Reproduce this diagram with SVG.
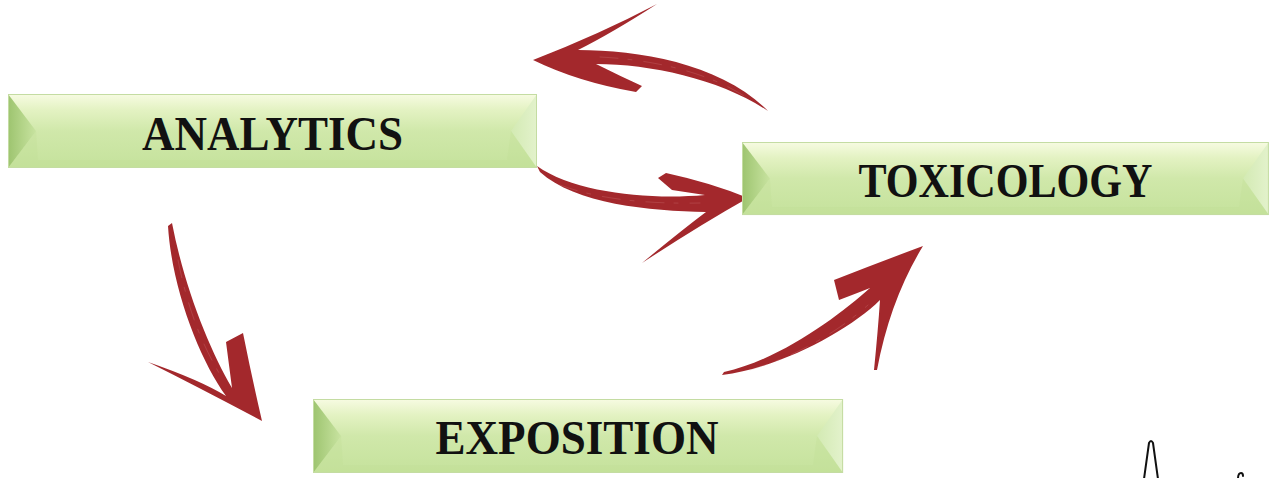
<svg xmlns="http://www.w3.org/2000/svg" xmlns:xlink="http://www.w3.org/1999/xlink" width="1269" height="478" viewBox="0 0 1269 478">
  <style>
    .label { font-family: "Liberation Serif", "Times New Roman", serif; font-weight: bold; font-size: 48px; fill: #111; text-anchor: middle; }
    .brush { fill: #a3282c; }
    .streak { fill: none; stroke: #e8a0a0; stroke-width: 0.8; stroke-opacity: 0.25; stroke-linecap: round; stroke-dasharray: 18 10 4 12; }
    .squiggle { fill: none; stroke: #111; stroke-width: 2; stroke-linejoin: round; stroke-linecap: round; }
  </style>
  <defs>
    <linearGradient id="face" x1="0" y1="0" x2="0" y2="1">
      <stop offset="0" stop-color="#f7fbe2"/>
      <stop offset="0.22" stop-color="#e3f2c2"/>
      <stop offset="0.5" stop-color="#d0e8aa"/>
      <stop offset="1" stop-color="#c5e29c"/>
    </linearGradient>
    <linearGradient id="bevelLeft" x1="0" y1="0" x2="1" y2="0">
      <stop offset="0" stop-color="#9dc46f"/>
      <stop offset="1" stop-color="#c8e3a0"/>
    </linearGradient>
    <linearGradient id="bevelRight" x1="0" y1="0" x2="1" y2="0">
      <stop offset="0" stop-color="#d3eab3"/>
      <stop offset="1" stop-color="#e3f2cc"/>
    </linearGradient>
    <!-- bevelled green plate, 529 x 74 -->
    <g id="plate">
      <rect x="0" y="0" width="529" height="74" fill="url(#face)"/>
      <polygon points="0,0 28,37 0,74" fill="url(#bevelLeft)"/>
      <polygon points="529,0 503,37 529,74" fill="url(#bevelRight)"/>
      <polygon points="0,74 28,37 30,66 499,66 503,37 529,74" fill="#bfdd95" opacity="0.3"/>
      <rect x="0.5" y="0.5" width="528" height="73" fill="none" stroke="#c4dca2" stroke-width="1"/>
    </g>
  </defs>

  <g id="connectors">
    <!-- TOXICOLOGY back to ANALYTICS (top, pointing left) -->
    <g id="arrow-tox-ana">
      <path class="brush" d="M533 60 Q600 34 657 4 Q612 33 578 50 C640 50 722 64 768 111 C722 80 652 64 596 64 Q620 76 642 86 L636 92 Q578 82 533 60 Z"/>
      <path class="streak" d="M600 57 C660 60 715 75 750 100"/>
    </g>
    <!-- ANALYTICS to TOXICOLOGY -->
    <g id="arrow-ana-tox">
      <path class="brush" d="M537 166 C575 193 650 200 705 195 L672 190 L658 178 L666 173 Q712 183 748 198 Q700 225 642 263 Q682 230 706 212 C650 211 575 204 540 172 Z"/>
      <path class="streak" d="M560 185 C600 200 650 204 700 203"/>
    </g>
    <!-- ANALYTICS to EXPOSITION -->
    <g id="arrow-ana-exp">
      <path class="brush" d="M172 223 C185 290 210 350 232 388 L226 342 L243 333 Q252 378 262 421 Q200 388 148 362 Q200 380 226 396 C200 360 172 290 168 226 Z"/>
      <path class="streak" d="M178 260 C188 310 202 345 222 378"/>
    </g>
    <!-- EXPOSITION to TOXICOLOGY -->
    <g id="arrow-exp-tox">
      <path class="brush" d="M722 375 C780 368 850 330 880 300 Q878 330 874 370 L877 370 Q890 300 923 246 Q880 262 834 280 L839 300 Q860 292 870 288 C840 315 780 360 724 372 Z"/>
      <path class="streak" d="M750 370 C800 355 840 330 868 305"/>
    </g>
  </g>

  <g id="node-analytics">
    <use xlink:href="#plate" href="#plate" transform="translate(8,94)"/>
    <text class="label" x="272.5" y="150" textLength="261" lengthAdjust="spacingAndGlyphs">ANALYTICS</text>
  </g>

  <g id="node-toxicology">
    <use xlink:href="#plate" href="#plate" transform="translate(742,142) scale(0.996,0.987)"/>
    <text class="label" x="1005.5" y="197" textLength="294" lengthAdjust="spacingAndGlyphs">TOXICOLOGY</text>
  </g>

  <g id="node-exposition">
    <use xlink:href="#plate" href="#plate" transform="translate(313,399) scale(1.002,1)"/>
    <text class="label" x="577" y="454" textLength="283" lengthAdjust="spacingAndGlyphs">EXPOSITION</text>
  </g>

  <!-- partial line figure at lower right edge -->
  <g id="fragment">
    <path class="squiggle" d="M1144 479 L1149 443 Q1151 439 1153 443 L1158 479"/>
    <path class="squiggle" d="M1238 479 Q1238 473 1241 473 Q1243 473 1243 476"/>
  </g>
</svg>
